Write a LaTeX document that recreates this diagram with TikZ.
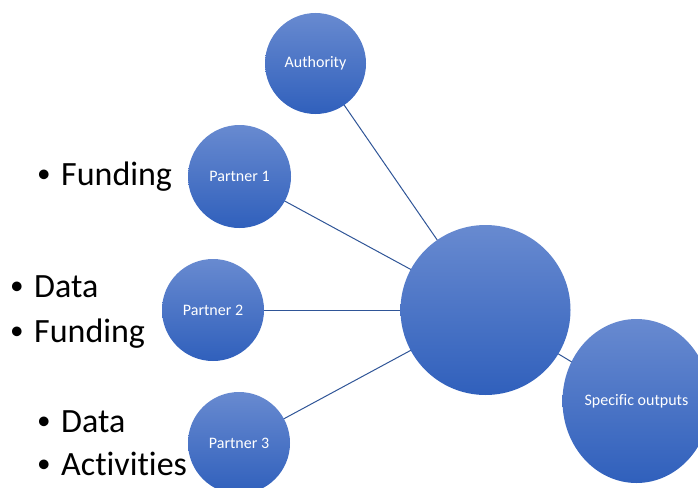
\documentclass[tikz,border=0pt]{standalone}
\usepackage{fontspec}
\setmainfont{Carlito}[Ligatures=NoCommon]
\usetikzlibrary{calc, backgrounds, shapes.geometric}

\definecolor{blobtop}{RGB}{104,138,208}
\definecolor{blobbot}{RGB}{48,96,188}
\definecolor{linkblue}{RGB}{47,85,151}
\newcommand{\itm}{\makebox[24pt][l]{\raisebox{0.06em}{\scalebox{0.8}{•}}}}

\tikzset{
  blob/.style={circle, inner sep=0pt, top color=blobtop, bottom color=blobbot, text=white, font=\fontsize{16}{19}\selectfont},
  link/.style={draw=linkblue, line width=1pt},
  item/.style={anchor=base west, inner sep=0pt, font=\fontsize{34}{40}\selectfont}
}

\begin{document}
\begin{tikzpicture}[x=1pt,y=-1pt]
\useasboundingbox (0,0) rectangle (698,487);
\node[blob, minimum size=101pt] (auth) at (315.5,63.5) {Authority};
\node[blob, minimum size=103pt] (p1) at (239.5,176.5) {Partner 1};
\node[blob, minimum size=102pt] (p2) at (213,310) {Partner 2};
\node[blob, minimum size=102pt] (p3) at (239,443) {Partner 3};
\node[blob, minimum size=170pt] (hub) at (485.5,310) {};
\node[blob, ellipse, minimum width=148pt, minimum height=164pt] (out) at (636.5,401) {Specific outputs};
\begin{scope}[on background layer]
\foreach \p in {auth,p1,p2,p3,out}
\draw[link] (hub.center) -- (\p.center);
\end{scope}
% bullet lists
\node[item] (f1) at (37,185) {\itm Funding};
\node[item] (d2) at (10,297) {\itm Data};
\node[item] (f2) at (10,342) {\itm Funding};
\node[item] (d3) at (37,432) {\itm Data};
\node[item] (a3) at (37,475) {\itm Activities};
\end{tikzpicture}
\end{document}
